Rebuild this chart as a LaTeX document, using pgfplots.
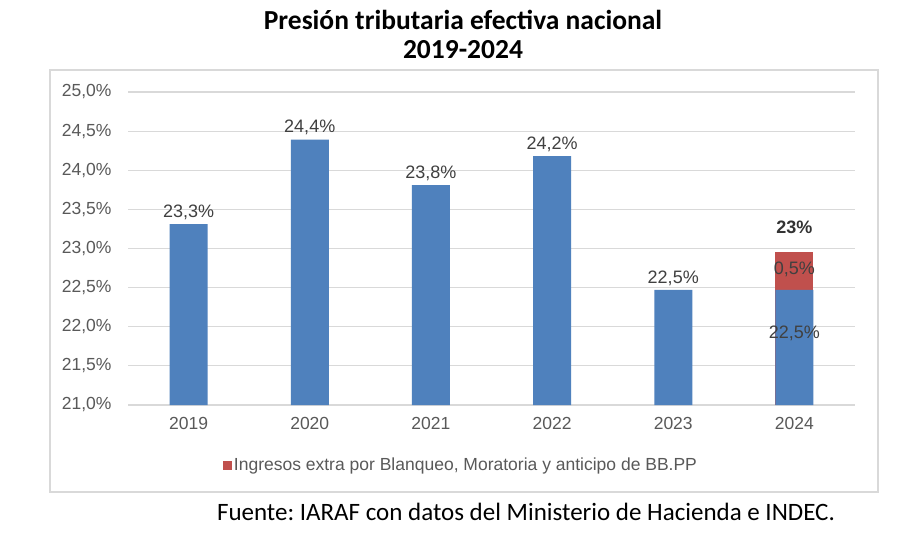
\documentclass[border=0pt]{standalone}
\usepackage{fontspec}
\setmainfont{Liberation Sans}
\newfontfamily\calibri{Carlito}
\usepackage{pgfplots}
\pgfplotsset{compat=1.18}
\usepackage{pgfplotstable}
\definecolor{barblue}{RGB}{79,129,189}
\definecolor{barred}{RGB}{192,80,77}
\definecolor{gridgray}{RGB}{217,217,217}
\definecolor{ticktext}{RGB}{89,89,89}
\definecolor{labeltext}{RGB}{64,64,64}
\pgfplotstableread{
x y lab
0 23.31 {23,3\%}
1 24.39 {24,4\%}
2 23.81 {23,8\%}
3 24.18 {24,2\%}
4 22.47 {22,5\%}
5 22.47 {}
}\bluedata
\pgfplotstableread{
x y lab
5 22.95 {}
}\reddata
\pgfplotstableread{
x y lab
5 21.92 {22,5\%}
5 22.73 {0,5\%}
}\insidelabels
\pgfplotstableread{
x y lab
5 23.27 {\textbf{23\%}}
}\totallabel
\begin{document}
\frenchspacing
\begin{tikzpicture}
\path[use as bounding box, fill=white] (0,0) rectangle (900pt,-535pt);
\draw[gridgray, line width=1.2pt] (50pt,-70pt) rectangle (878pt,-492pt);
\node[font=\calibri\bfseries\fontsize{27.5}{32}\selectfont] at (463pt,-20pt) {Presión tributaria efectiva nacional};
\node[font=\calibri\bfseries\fontsize{27.5}{32}\selectfont] at (463pt,-50pt) {2019-2024};
\node[font=\calibri\fontsize{25}{30}\selectfont] at (526pt,-512pt) {Fuente: IARAF con datos del Ministerio de Hacienda e INDEC.};
\begin{axis}[
  at={(128pt,-405pt)}, anchor=south west,
  scale only axis, width=727pt, height=313pt,
  xmin=-0.5, xmax=5.5, ymin=21, ymax=25,
  xtick={0,1,2,3,4,5},
  xticklabels={2019,2020,2021,2022,2023,2024},
  ytick={21,21.5,22,22.5,23,23.5,24,24.5,25},
  yticklabels={{21,0\%},{21,5\%},{22,0\%},{22,5\%},{23,0\%},{23,5\%},{24,0\%},{24,5\%},{25,0\%}},
  ymajorgrids, grid style={gridgray, line width=1.2pt},
  axis line style={draw=none},
  major tick length=0pt,
  tick label style={font=\fontsize{17.5}{21}\selectfont, text=ticktext},
  yticklabel style={xshift=-13pt},
  xticklabel style={yshift=-9pt},
  clip=false,
  legend style={at={(0.458,-0.192)}, anchor=center, draw=none, fill=none,
    font=\fontsize{17.5}{21}\selectfont, text=ticktext},
  legend image code/.code={\fill[barred] (0pt,-4.5pt) rectangle (9pt,4.5pt);},
]
\addplot[ybar, bar width=38pt, bar shift=0pt, fill=barred, draw=none] table[x=x, y=y] {\reddata};
\addlegendentry{Ingresos extra por Blanqueo, Moratoria y anticipo de BB.PP}
\addplot[ybar, bar width=38pt, bar shift=0pt, fill=barblue, draw=none, forget plot,
  nodes near coords, point meta=explicit symbolic,
  nodes near coords style={font=\fontsize{18}{21}\selectfont, text=labeltext, yshift=1pt}]
  table[x=x, y=y, meta=lab] {\bluedata};
\addplot[draw=none, mark=none, forget plot,
  nodes near coords, point meta=explicit symbolic,
  nodes near coords align=center,
  nodes near coords style={font=\fontsize{18}{21}\selectfont, text=labeltext, anchor=center}]
  table[x=x, y=y, meta=lab] {\insidelabels};
\addplot[draw=none, mark=none, forget plot,
  nodes near coords, point meta=explicit symbolic,
  nodes near coords style={font=\fontsize{18}{21}\selectfont, text=black!80, anchor=center}]
  table[x=x, y=y, meta=lab] {\totallabel};
\end{axis}
\end{tikzpicture}
\end{document}
